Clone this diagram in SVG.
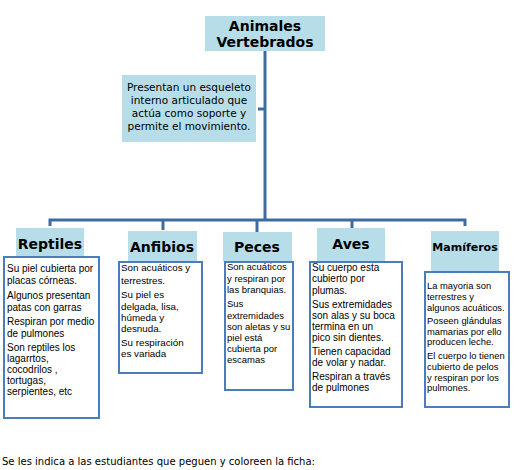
<svg xmlns="http://www.w3.org/2000/svg" width="520" height="470" viewBox="0 0 520 470">
<style>
.hdr{fill:#b7dde8}
.box{fill:#fff;stroke:#4a7ebb;stroke-width:2}
.conn{fill:none;stroke:#3f6ba0;stroke-width:3}
.t{font-family:"Comic Sans MS","DejaVu Sans",sans-serif;font-weight:bold;fill:#000;text-anchor:middle}
.c{font-family:"Comic Sans MS","DejaVu Sans",sans-serif;font-size:10.5px;fill:#000;text-anchor:middle}
.b{font-family:"Liberation Sans",Arial,sans-serif;fill:#000}
</style>
<rect width="520" height="470" fill="#fff"/>
<g id="connectors">
<path class="conn" d="M265,51 V220"/>
<path class="conn" d="M258,109 H265"/>
<path class="conn" d="M50,226 V220 H465 V226"/>
<path class="conn" d="M163,220 V230"/>
<path class="conn" d="M257,220 V232"/>
<path class="conn" d="M352,220 V228"/>
</g>
<g id="title">
<rect class="hdr" x="205" y="16" width="120" height="35"/>
<text class="t" x="265" y="31" font-size="14">Animales</text>
<text class="t" x="265" y="47" font-size="14">Vertebrados</text>
</g>
<g id="concept">
<rect class="hdr" x="122" y="75" width="134" height="67"/>
<text class="c" x="189" y="91">Presentan un esqueleto</text>
<text class="c" x="189" y="104">interno articulado que</text>
<text class="c" x="189" y="117">actúa como soporte y</text>
<text class="c" x="189" y="130">permite el movimiento.</text>
</g>
<g id="reptiles">
<rect class="hdr" x="16" y="228" width="68" height="34"/>
<text class="t" x="50" y="249" font-size="14">Reptiles</text>
<rect class="box" x="4" y="257" width="95" height="161"/>
<text class="b" style="font-size:10px"><tspan x="7" y="272">Su piel cubierta por</tspan><tspan x="7" y="284">placas córneas.</tspan><tspan x="7" y="299">Algunos presentan</tspan><tspan x="7" y="311">patas con garras</tspan><tspan x="7" y="325">Respiran por medio</tspan><tspan x="7" y="337">de pulmones</tspan><tspan x="7" y="351">Son reptiles los</tspan><tspan x="7" y="362">lagarrtos,</tspan><tspan x="7" y="373">cocodrilos ,</tspan><tspan x="7" y="384">tortugas,</tspan><tspan x="7" y="395">serpientes, etc</tspan></text>
</g>
<g id="anfibios">
<rect class="hdr" x="128" y="231" width="69" height="31"/>
<text class="t" x="162" y="252" font-size="14">Anfibios</text>
<rect class="box" x="119" y="262" width="83" height="111"/>
<text class="b" style="font-size:9.8px"><tspan x="121" y="271">Son acuáticos y</tspan><tspan x="121" y="284">terrestres.</tspan><tspan x="121" y="298">Su piel es</tspan><tspan x="121" y="310">delgada, lisa,</tspan><tspan x="121" y="321">húmeda y</tspan><tspan x="121" y="332">desnuda.</tspan><tspan x="121" y="346">Su respiración</tspan><tspan x="121" y="357">es variada</tspan></text>
</g>
<g id="peces">
<rect class="hdr" x="223" y="232" width="69" height="30"/>
<text class="t" x="257" y="252" font-size="14">Peces</text>
<rect class="box" x="225" y="262" width="68" height="128"/>
<text class="b" style="font-size:9.5px"><tspan x="227" y="270">Son acuáticos</tspan><tspan x="227" y="282">y respiran por</tspan><tspan x="227" y="293">las branquias.</tspan><tspan x="227" y="307">Sus</tspan><tspan x="227" y="319">extremidades</tspan><tspan x="227" y="330">son aletas y su</tspan><tspan x="227" y="341">piel está</tspan><tspan x="227" y="352">cubierta por</tspan><tspan x="227" y="363">escamas</tspan></text>
</g>
<g id="aves">
<rect class="hdr" x="317" y="228" width="68" height="34"/>
<text class="t" x="351" y="249" font-size="14">Aves</text>
<rect class="box" x="310" y="262" width="92" height="145"/>
<text class="b" style="font-size:10px"><tspan x="312" y="271">Su cuerpo esta</tspan><tspan x="312" y="282">cubierto por</tspan><tspan x="312" y="294">plumas.</tspan><tspan x="312" y="308">Sus extremidades</tspan><tspan x="312" y="319">son alas y su boca</tspan><tspan x="312" y="330">termina en un</tspan><tspan x="312" y="341">pico sin dientes.</tspan><tspan x="312" y="355">Tienen capacidad</tspan><tspan x="312" y="366">de volar y nadar.</tspan><tspan x="312" y="380">Respiran a través</tspan><tspan x="312" y="391">de pulmones</tspan></text>
</g>
<g id="mamiferos">
<rect class="hdr" x="431" y="231" width="68" height="41"/>
<text class="t" x="465" y="251" font-size="11">Mamíferos</text>
<rect class="box" x="425" y="272" width="84" height="135"/>
<text class="b" style="font-size:9.4px"><tspan x="427" y="289">La mayoria son</tspan><tspan x="427" y="300">terrestres y</tspan><tspan x="427" y="311">algunos acuáticos.</tspan><tspan x="427" y="324">Poseen glándulas</tspan><tspan x="427" y="335">mamarias por ello</tspan><tspan x="427" y="345">producen leche.</tspan><tspan x="427" y="359">El cuerpo lo tienen</tspan><tspan x="427" y="370">cubierto de pelos</tspan><tspan x="427" y="381">y respiran por los</tspan><tspan x="427" y="391">pulmones.</tspan></text>
</g>
<text x="2" y="465" font-family="'Comic Sans MS','DejaVu Sans',sans-serif" font-size="10" textLength="313" lengthAdjust="spacingAndGlyphs" fill="#000">Se les indica a las estudiantes que peguen y coloreen la ficha:</text>
</svg>
